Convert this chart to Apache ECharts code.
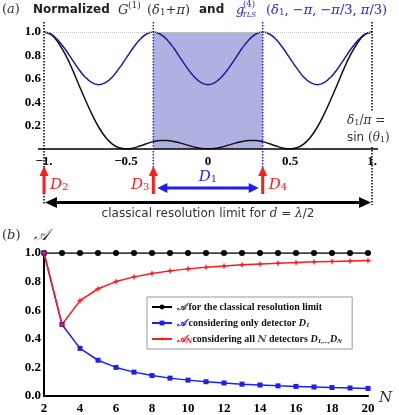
<!DOCTYPE html>
<html>
<head>
<meta charset="utf-8">
<script src="https://cdn.jsdelivr.net/npm/echarts@6/dist/echarts.min.js"></script>
<style>
html,body{margin:0;padding:0;background:#fff;}
#main{width:399px;height:415px;}
</style>
</head>
<body>
<div id="main"></div>
<script>
// (a) 横坐标 delta1/pi
var deltaX=[-1,-0.958,-0.917,-0.875,-0.833,-0.792,-0.75,-0.708,-0.667,-0.625,-0.583,-0.542,-0.5,-0.458,-0.417,-0.375,-0.333,-0.292,-0.25,-0.208,-0.167,-0.125,-0.083,-0.042,0,
	0.042,0.083,0.125,0.167,0.208,0.25,0.292,0.333,0.375,0.417,0.458,0.5,0.542,0.583,0.625,0.667,0.708,0.75,0.792,0.833,0.875,0.917,0.958,1];
// 黑线 G(1)
var g1Values=[1.000,0.979,0.917,0.821,0.700,0.564,0.427,0.298,0.188,0.101,0.042,0.010,0.000,0.007,0.025,0.045,0.063,0.073,0.073,0.065,0.050,0.033,0.016,0.004,0.000,
	0.004,0.016,0.033,0.050,0.065,0.073,0.073,0.063,0.045,0.025,0.007,0.000,0.010,0.042,0.101,0.188,0.298,0.427,0.564,0.700,0.821,0.917,0.979,1.000];
// 蓝线 g(4)
var g4Values=[1.000,0.983,0.934,0.861,0.775,0.689,0.616,0.567,0.550,0.567,0.616,0.689,0.775,0.861,0.934,0.983,1.000,0.983,0.934,0.861,0.775,0.689,0.616,0.567,0.550,
	0.567,0.616,0.689,0.775,0.861,0.934,0.983,1.000,0.983,0.934,0.861,0.775,0.689,0.616,0.567,0.550,0.567,0.616,0.689,0.775,0.861,0.934,0.983,1.000];
// 探测器位置
var detectorNames=['2','3','4'];
var detectorPos=[-1,-1/3,1/3];
var shadeRange=[-1/3,1/3];
var limitRange=[-1,1];

// (b)
var nValues=[2,3,4,5,6,7,8,9,10,11,12,13,14,15,16,17,18,19,20];
var classicalValues=[1,1,1,1,1,1,1,1,1,1,1,1,1,1,1,1,1,1,1];
var d1Values=[1.000,0.500,0.333,0.250,0.200,0.167,0.143,0.125,0.111,0.100,0.091,0.083,0.077,0.071,0.067,0.063,0.059,0.056,0.053];
var allNValues=[1.000,0.500,0.667,0.750,0.800,0.833,0.857,0.875,0.889,0.900,0.909,0.917,0.923,0.929,0.933,0.938,0.941,0.944,0.947];

var SERIF='Liberation Serif', MATH='DejaVu Serif', SANS='DejaVu Sans';
var BLUE='#1f1fee', NAVY='#1c1ca6', RED='#ff1c1c';

function pairs(xs,ys){
	var out=[];
	for(var i=0;i<xs.length;i++) out.push([xs[i],ys[i]]);
	return out;
}

var myChart=echarts.init(document.getElementById('main'));

var tickFont={fontFamily:SERIF,fontWeight:'bold',fontSize:13,color:'#000'};

myChart.setOption({
	animation:false,
	grid:[
		{left:44,top:32,width:328,height:117},
		{left:44,top:253,width:324,height:143}
	],
	xAxis:[
		{gridIndex:0,type:'value',min:-1,max:1,interval:0.5,
		 axisLine:{show:false},axisTick:{show:false},splitLine:{show:false},
		 axisLabel:Object.assign({margin:6,formatter:function(v){
			if(v===-1) return '\u22121.';
			if(v===1) return '1.';
			if(v===0) return '0';
			return (v<0?'\u2212':'')+Math.abs(v);
		 }},tickFont)},
		{gridIndex:1,type:'value',min:2,max:20,interval:2,
		 axisLine:{lineStyle:{color:'#000',width:2}},axisTick:{show:false},splitLine:{show:false},
		 axisLabel:Object.assign({margin:6},tickFont)}
	],
	yAxis:[
		{gridIndex:0,type:'value',min:0,max:1,interval:0.2,
		 axisLine:{show:false},axisTick:{show:false},splitLine:{show:false},
		 axisLabel:Object.assign({margin:3,formatter:function(v){return v===0?'':v.toFixed(1);}},tickFont)},
		{gridIndex:1,type:'value',min:0,max:1,interval:0.2,
		 axisLine:{show:true,lineStyle:{color:'#000',width:2}},axisTick:{show:false},splitLine:{show:false},
		 axisLabel:Object.assign({margin:3,formatter:function(v){return v.toFixed(1);}},tickFont)}
	],
	legend:{
		orient:'vertical',left:147,top:297,padding:[4,10,4,4],itemGap:4,itemWidth:20,itemHeight:6,
		borderColor:'#999',borderWidth:1,backgroundColor:'#fff',
		data:['classical','onlyD1','allN'],
		formatter:function(name){
			if(name==='classical') return '{a1|\uD835\uDC9C} {t|for the classical resolution limit}';
			if(name==='onlyD1') return '{a2|\uD835\uDC9C} {t|considering only detector }{d|D}{sb|1}';
			return '{a3|\uD835\uDC9C}{s3|N}{t|considering all }{n|N}{t| detectors }{d|D}{sb|1,...,}{d|D}{sb|N}';
		},
		textStyle:{fontFamily:SERIF,fontWeight:'bold',fontSize:10,color:'#111',lineHeight:12,
			rich:{
				t:{fontFamily:SERIF,fontWeight:'bold',fontSize:10,color:'#111'},
				a1:{fontFamily:MATH,fontStyle:'italic',fontSize:10,color:'#444'},
				a2:{fontFamily:MATH,fontStyle:'italic',fontSize:10,color:BLUE},
				a3:{fontFamily:MATH,fontStyle:'italic',fontSize:10,color:RED},
				s3:{fontFamily:MATH,fontStyle:'italic',fontSize:7,color:RED,verticalAlign:'bottom'},
				n:{fontFamily:MATH,fontStyle:'italic',fontSize:10,color:'#555'},
				d:{fontFamily:SERIF,fontWeight:'bold',fontStyle:'italic',fontSize:10,color:'#111'},
				sb:{fontFamily:SERIF,fontWeight:'bold',fontStyle:'italic',fontSize:7,color:'#111',verticalAlign:'bottom'}
			}}
	},
	series:[
		{name:'shade',type:'line',xAxisIndex:0,yAxisIndex:0,data:[],z:1,
		 markArea:{silent:true,itemStyle:{color:'#b1b1e1'},
			data:[[{xAxis:shadeRange[0],yAxis:0},{xAxis:shadeRange[1],yAxis:1}]]},
		 markLine:{silent:true,symbol:'none',label:{show:false},
			lineStyle:{type:'dotted',color:'#c4c4c4',width:1},data:[{yAxis:1}]}},
		{name:'G1',type:'line',xAxisIndex:0,yAxisIndex:0,data:pairs(deltaX,g1Values),
		 smooth:0.4,showSymbol:false,z:3,lineStyle:{color:'#111',width:1.5}},
		{name:'g4',type:'line',xAxisIndex:0,yAxisIndex:0,data:pairs(deltaX,g4Values),
		 smooth:0.4,showSymbol:false,z:3,lineStyle:{color:NAVY,width:1.5}},
		{name:'classical',type:'line',xAxisIndex:1,yAxisIndex:1,data:pairs(nValues,classicalValues),
		 symbol:'circle',symbolSize:6,color:'#000',lineStyle:{color:'#000',width:1.5}},
		{name:'onlyD1',type:'line',xAxisIndex:1,yAxisIndex:1,data:pairs(nValues,d1Values),
		 symbol:'rect',symbolSize:5,color:BLUE,lineStyle:{color:BLUE,width:1.5}},
		{name:'allN',type:'line',xAxisIndex:1,yAxisIndex:1,data:pairs(nValues,allNValues),
		 symbol:'path://M0,-10L2.5,-2.5L10,0L2.5,2.5L0,10L-2.5,2.5L-10,0L-2.5,-2.5Z',symbolSize:7,
		 color:RED,lineStyle:{color:RED,width:1.5}}
	]
});

// 注释 graphic
function T(x,y,text,st){
	return {type:'text',x:x,y:y,z:20,silent:true,
		style:Object.assign({text:text,verticalAlign:'middle',align:'left'},st)};
}
function L(x1,y1,x2,y2,st){
	return {type:'line',z:15,silent:true,shape:{x1:x1,y1:y1,x2:x2,y2:y2},style:st};
}
function P(pts,color){
	return {type:'polygon',z:16,silent:true,shape:{points:pts},style:{fill:color}};
}
function px(x){ return myChart.convertToPixel({gridIndex:0},[x,0])[0]; }

var g=[];
var mathRich=function(col,size){
	return {
		n:{fontFamily:MATH,fontSize:size,fill:col},
		i:{fontFamily:MATH,fontStyle:'italic',fontSize:size,fill:col},
		s:{fontFamily:MATH,fontSize:size*0.68,fill:col,verticalAlign:'bottom'}
	};
};
// 标题
g.push(T(2,10,'{n|(}{i|a}{n|)}',{rich:mathRich('#333',13)}));
g.push(T(33,10,'Normalized',{fontFamily:SANS,fontWeight:'bold',fontSize:12,fill:'#222'}));
g.push(T(118,11,'G',{fontFamily:MATH,fontStyle:'italic',fontSize:13,fill:'#333'}));
g.push(T(128,6,'(1)',{fontFamily:MATH,fontSize:9,fill:'#333'}));
g.push(T(147,11,'{n|(}{i|\u03b4}{s|1}{n|+}{i|\u03c0}{n|)}',{rich:mathRich('#333',13)}));
g.push(T(199,10,'and',{fontFamily:SANS,fontWeight:'bold',fontSize:12,fill:'#222'}));
g.push(T(236,11,'g',{fontFamily:MATH,fontStyle:'italic',fontSize:13,fill:BLUE}));
g.push(T(243,5,'(4)',{fontFamily:MATH,fontSize:8.5,fill:BLUE}));
g.push(T(242,15,'TLS',{fontFamily:MATH,fontStyle:'italic',fontSize:7,fill:BLUE}));
g.push(T(266,11,'{n|(}{i|\u03b4}{s|1}{n|, \u2212}{i|\u03c0}{n|, \u2212}{i|\u03c0}{n|/3, }{i|\u03c0}{n|/3)}',{rich:mathRich(BLUE,13)}));

// 坐标轴线 (a)
var y0=myChart.convertToPixel({gridIndex:0},[0,0])[1];
g.push(L(38,y0,378,y0,{stroke:'#000',lineWidth:1.5}));

// 虚线
var xa=px(limitRange[0]), xb=px(limitRange[1]), xl=px(shadeRange[0]), xr=px(shadeRange[1]), xc=px(0);
var dotBlack={stroke:'#000',lineWidth:1.5,lineDash:[1.5,1.5]};
g.push(L(xa,22,xa,205,dotBlack));
g.push(L(xb,22,xb,112,dotBlack));
g.push(L(xb,147,xb,205,dotBlack));
g.push(L(xl,22,xl,168,{stroke:BLUE,lineWidth:1.5,lineDash:[1.5,1.5]}));
g.push(L(xr,22,xr,168,{stroke:BLUE,lineWidth:1.5,lineDash:[1.5,1.5]}));

// 红色箭头
var dRich={d:{fontFamily:MATH,fontStyle:'italic',fontSize:15,fill:RED},s:{fontFamily:MATH,fontSize:10,fill:RED,verticalAlign:'bottom'}};
for(var i=0;i<detectorPos.length;i++){
	var x=px(detectorPos[i]);
	g.push(L(x,194,x,174,{stroke:RED,lineWidth:3}));
	g.push(P([[x,166],[x-4.5,176],[x+4.5,176]],RED));
	var lab='{d|D}{s|'+detectorNames[i]+'}';
	if(i===1) g.push(T(x-4,185,lab,{align:'right',rich:dRich}));
	else g.push(T(x+6,185,lab,{rich:dRich}));
}
// 蓝色双箭头 D1
g.push(L(xl+10,188,xr-10,188,{stroke:BLUE,lineWidth:3}));
g.push(P([[xl+4,188],[xl+14,183],[xl+14,193]],BLUE));
g.push(P([[xr-4,188],[xr-14,183],[xr-14,193]],BLUE));
g.push(T(xc,177,'{d|D}{s|1}',{align:'center',rich:{d:{fontFamily:MATH,fontStyle:'italic',fontSize:15,fill:BLUE},s:{fontFamily:MATH,fontSize:10,fill:BLUE,verticalAlign:'bottom'}}}));
// 黑色双箭头
g.push(L(xa+8,202.5,xb-8,202.5,{stroke:'#000',lineWidth:3}));
g.push(P([[xa+1,202.5],[xa+13,197],[xa+13,208]],'#000'));
g.push(P([[xb-1,202.5],[xb-13,197],[xb-13,208]],'#000'));
g.push(T(xc,214,'{t|classical resolution limit for }{i|d}{t| = }{i|\u03bb}{t|/2}',{align:'center',rich:{
	t:{fontFamily:SANS,fontSize:12,fill:'#333'},
	i:{fontFamily:MATH,fontStyle:'italic',fontSize:12,fill:'#333'}}}));
// delta1/pi = sin(theta1)
g.push(T(347,121,'{i|\u03b4}{s|1}{n|/}{i|\u03c0}{n| =}',{rich:mathRich('#333',12)}));
g.push(T(347,138,'{t|sin}{n| (}{i|\u03b8}{s|1}{n|)}',{rich:Object.assign({t:{fontFamily:SANS,fontSize:12,fill:'#333'}},mathRich('#333',12))}));

// (b)
g.push(T(2,236,'{n|(}{i|b}{n|)}',{rich:mathRich('#333',13)}));
g.push(T(34,236,'\uD835\uDC9C',{fontFamily:MATH,fontStyle:'italic',fontSize:16,fill:'#333'}));
g.push(T(379,398,'N',{fontFamily:MATH,fontStyle:'italic',fontSize:15,fill:'#333'}));

myChart.setOption({graphic:g});
</script>
</body>
</html>
